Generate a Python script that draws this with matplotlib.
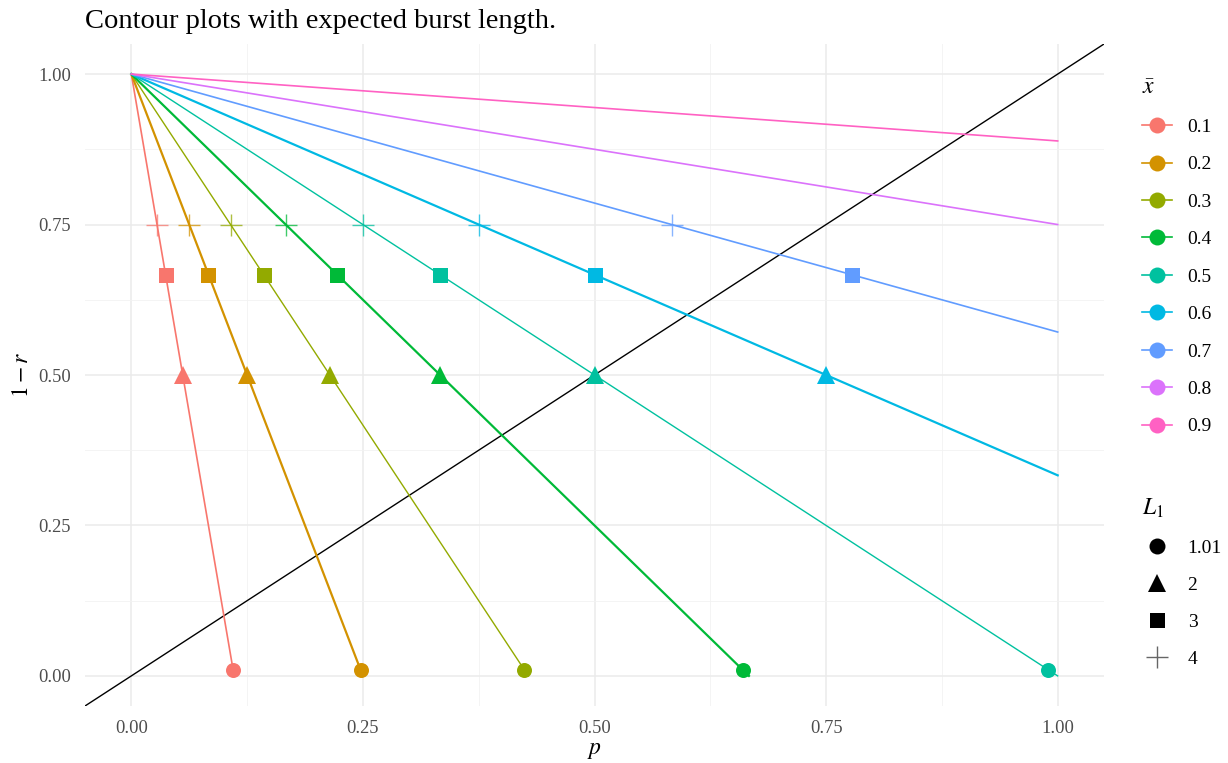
import matplotlib
matplotlib.use("Agg")
import matplotlib.pyplot as plt
from matplotlib.lines import Line2D

plt.rcParams["font.family"] = ["Liberation Serif", "DejaVu Serif"]
plt.rcParams["mathtext.fontset"] = "stix"

# Mean burst levels (x-bar) and their line end points in (p, 1 - r)
xbar_levels = ["0.1", "0.2", "0.3", "0.4", "0.5", "0.6", "0.7", "0.8", "0.9"]
xbar_colors = ["#F8766D", "#D39200", "#93AA00", "#00BA38", "#00C19F",
               "#00B9E3", "#619CFF", "#DB72FB", "#FF61C3"]
line_start_p, line_start_y = 0.0, 1.0
line_end_p = [0.111, 0.25, 0.4286, 0.6667, 1.0, 1.0, 1.0, 1.0, 1.0]
line_end_y = [0.0, 0.0, 0.0, 0.0, 0.0, 0.3333, 0.5714, 0.75, 0.8889]
line_widths = [1.2, 1.6, 1.0, 1.6, 1.0, 1.6, 1.2, 1.2, 1.2]

# Expected burst length levels L1 with the point positions on each contour
L1_levels = ["1.01", "2", "3", "4"]
L1_markers = ["o", "^", "s", "+"]
L1_y = [0.0099, 0.5, 0.6667, 0.75]
L1_p = [
    [0.110, 0.2475, 0.4243, 0.66, 0.99],
    [0.0556, 0.125, 0.2143, 0.3333, 0.5, 0.75],
    [0.037, 0.0833, 0.1429, 0.2222, 0.3333, 0.5, 0.7778],
    [0.0278, 0.0625, 0.1071, 0.1667, 0.25, 0.375, 0.5833],
]
marker_sizes = {"o": 10.8, "^": 13.0, "s": 10.8, "+": 16}

W, H = 1228, 763
fig = plt.figure(figsize=(W / 100, H / 100), dpi=100)
ax = fig.add_axes([85 / W, 1 - 706 / H, (1104 - 85) / W, (706 - 44) / H])

# theme_minimal style grid
ax.set_xlim(-0.05, 1.05)
ax.set_ylim(-0.05, 1.05)
ticks = [0.0, 0.25, 0.5, 0.75, 1.0]
tick_labels = ["0.00", "0.25", "0.50", "0.75", "1.00"]
minor = [0.125, 0.375, 0.625, 0.875]
ax.set_xticks(ticks)
ax.set_xticklabels(tick_labels)
ax.set_yticks(ticks)
ax.set_yticklabels(tick_labels)
ax.set_xticks(minor, minor=True)
ax.set_yticks(minor, minor=True)
ax.grid(True, which="major", color="#EBEBEB", linewidth=1.1)
ax.grid(True, which="minor", color="#F2F2F2", linewidth=0.6)
ax.set_axisbelow(True)
for s in ax.spines.values():
    s.set_visible(False)
ax.tick_params(which="both", length=0, labelsize=13.3, labelcolor="#4D4D4D")
ax.tick_params(axis="x", pad=10)
ax.tick_params(axis="y", pad=10)

# identity line across the whole panel
ax.axline((0, 0), (1, 1), color="black", linewidth=1.0, zorder=2)

# contour lines
for lvl, col, ep, ey, lw in zip(xbar_levels, xbar_colors, line_end_p, line_end_y, line_widths):
    ax.plot([line_start_p, ep], [line_start_y, ey], color=col, linewidth=lw, zorder=3)

# points for each expected burst length
for mk, yv, ps in zip(L1_markers, L1_y, L1_p):
    for i, pv in enumerate(ps):
        if mk == "+":
            ax.plot(pv, yv, marker="+", markersize=marker_sizes[mk], markeredgewidth=1.0,
                    color=xbar_colors[i], alpha=0.75, linestyle="none", zorder=4)
        else:
            ax.plot(pv, yv, marker=mk, markersize=marker_sizes[mk], color=xbar_colors[i],
                    markeredgewidth=0, linestyle="none", zorder=4)

ax.set_xlabel("$p$", fontsize=17, labelpad=2)
ax.set_ylabel("$1 - r$", fontsize=17, labelpad=4)

fig.text(85 / W, 1 - 28 / H, "Contour plots with expected burst length.",
         fontsize=20.5, ha="left", va="baseline")

# legends
h1 = [Line2D([], [], color=c, marker="o", markersize=11.5, linewidth=1.2, markeredgewidth=0)
      for c in xbar_colors]
leg1 = fig.legend(h1, xbar_levels, title=r"$\bar{x}$", loc="upper left",
                  bbox_to_anchor=(1124 / W, 1 - 60 / H), frameon=False,
                  fontsize=14, title_fontsize=17, handlelength=1.55,
                  handletextpad=0.82, labelspacing=1.02, alignment="left")

h2 = []
for mk in L1_markers:
    if mk == "+":
        h2.append(Line2D([], [], color="#333333", marker="+", markersize=16,
                         markeredgewidth=1.0, linestyle="none", alpha=0.75))
    else:
        h2.append(Line2D([], [], color="black", marker=mk,
                         markersize={"o": 11.5, "^": 13.0, "s": 10.8}[mk],
                         markeredgewidth=0, linestyle="none"))
leg2 = fig.legend(h2, L1_levels, title="$L_1$", loc="upper left",
                  bbox_to_anchor=(1124 / W, 1 - 479 / H), frameon=False,
                  fontsize=14, title_fontsize=17, handlelength=1.55,
                  handletextpad=0.82, labelspacing=1.0, alignment="left")

fig.savefig("out.png", dpi=100, facecolor="white")
